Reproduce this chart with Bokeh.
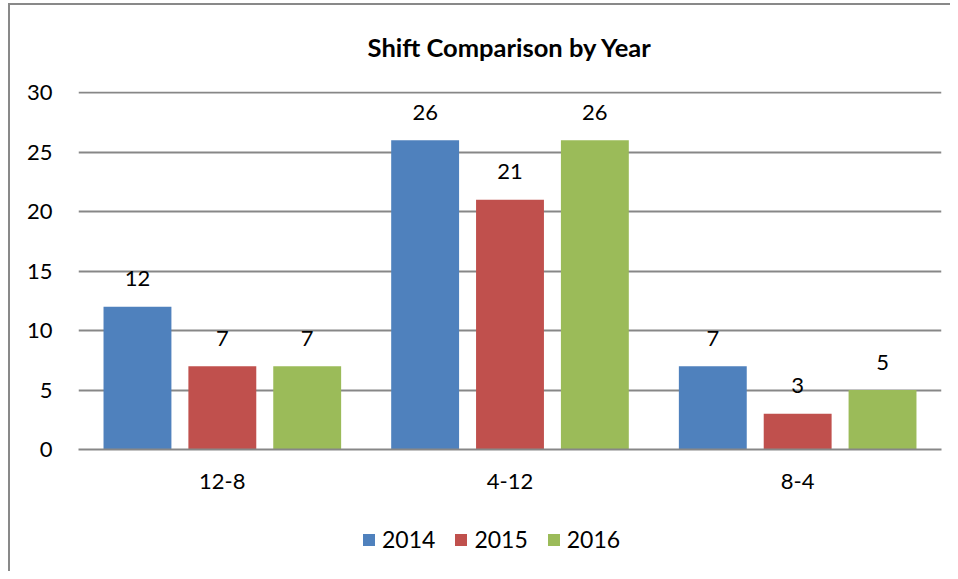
from bokeh.plotting import figure
from bokeh.layouts import column
from bokeh.models import ColumnDataSource, FactorRange, Legend, LegendItem, FixedTicker
from bokeh.transform import dodge
from bokeh.embed import file_html
from bokeh.resources import INLINE
from bokeh.core.properties import value

shifts = ["12-8", "4-12", "8-4"]
years = ["2014", "2015", "2016"]
v2014 = [12, 26, 7]
v2015 = [7, 21, 3]
v2016 = [7, 26, 5]
y_ticks = [0, 5, 10, 15, 20, 25, 30]

colors = ["#4F81BD", "#C0504D", "#9BBB59"]
offsets = [-0.295, 0.0, 0.295]
FONT = "Lato"
GRID = "#878787"

src = ColumnDataSource(dict(shift=shifts, y2014=v2014, y2015=v2015, y2016=v2016,
                            t2014=[str(v) for v in v2014],
                            t2015=[str(v) for v in v2015],
                            t2016=[str(v) for v in v2016]))

p = figure(x_range=FactorRange(*shifts, range_padding=0), y_range=(0, 30.1),
           width=950, height=500, output_backend="svg", toolbar_location=None,
           min_border_left=78, min_border_right=9, min_border_top=89, min_border_bottom=51)
p.x_range.factor_padding = 0

for yr, col, off in zip(years, colors, offsets):
    p.vbar(x=dodge("shift", off, range=p.x_range), top="y" + yr, width=0.236,
           source=src, fill_color=col, line_color=None)
    p.text(x=dodge("shift", off, range=p.x_range), y="y" + yr, text="t" + yr, source=src,
           text_align="center", text_baseline="alphabetic", y_offset=-28,
           text_font=value(FONT), text_font_size="22px", text_color="black")

p.title.text = "Shift Comparison by Year"
p.title.align = "center"
p.title.text_font = FONT
p.title.text_font_size = "25.5px"
p.title.text_font_style = "bold"
p.title.text_color = "black"
p.title.standoff = 59

p.yaxis.ticker = FixedTicker(ticks=y_ticks)
p.yaxis.axis_line_color = None
p.yaxis.major_tick_line_color = None
p.yaxis.minor_tick_line_color = None
p.yaxis.major_label_standoff = 20
p.yaxis.major_label_text_font = FONT
p.yaxis.major_label_text_font_size = "22px"
p.yaxis.major_label_text_color = "black"

p.xaxis.axis_line_color = GRID
p.xaxis.axis_line_width = 2
p.xaxis.major_tick_line_color = None
p.xaxis.minor_tick_line_color = None
p.xaxis.major_label_standoff = 18
p.xaxis.major_label_text_font = FONT
p.xaxis.major_label_text_font_size = "22px"
p.xaxis.major_label_text_color = "black"

p.xgrid.grid_line_color = None
p.ygrid.grid_line_color = GRID
p.ygrid.grid_line_width = 2
p.outline_line_color = None
p.border_fill_color = None

# legend strip below the chart
lg = figure(x_range=FactorRange(*shifts), y_range=(0, 1), width=950, height=71,
            output_backend="svg", toolbar_location=None,
            x_axis_location=None, y_axis_location=None,
            min_border_left=0, min_border_right=0, min_border_top=0, min_border_bottom=0)
lg.grid.visible = False
lg.outline_line_color = None
lg.border_fill_color = None
lg.background_fill_color = None
items = []
for yr, col in zip(years, colors):
    r = lg.vbar(x="shift", top="y" + yr, width=0.2, source=src, fill_color=col, line_color=None)
    r.visible = False
    items.append(LegendItem(label=yr, renderers=[r]))

legend = Legend(items=items, orientation="horizontal", location=(283, 18),
                label_text_font=FONT, label_text_font_size="23px", label_text_color="black",
                glyph_width=15, glyph_height=15, label_standoff=6, spacing=18,
                border_line_color=None, background_fill_alpha=0, margin=0, padding=0)
lg.add_layout(legend, "center")

layout = column(p, lg, spacing=0)
layout.styles = {
    "background": "linear-gradient(#898989, #898989) 8px 3px / 2px 100% no-repeat, "
                  "linear-gradient(#898989, #898989) 8px 3px / 100% 2px no-repeat",
}

open("out.html", "w").write(file_html(layout, INLINE))
